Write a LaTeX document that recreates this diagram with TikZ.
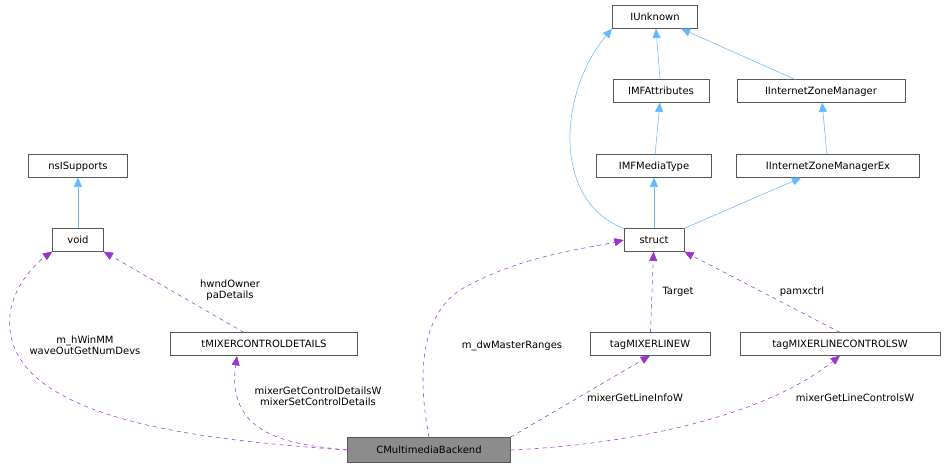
\documentclass[tikz,border=0pt]{standalone}
\usepackage{fontspec}
\setmainfont{DejaVu Sans}
\usetikzlibrary{arrows.meta}
\definecolor{inh}{HTML}{63B8FF}
\definecolor{use}{HTML}{9A32CD}
\tikzset{
  cls/.style = {draw = black!65, fill = white, inner sep = 0pt, minimum height = 17pt, text height = 6pt, text depth = 1.5pt, font = \fontsize{7.5}{8.5}\selectfont},
  inherit/.style = {draw = inh, -{Triangle[length = 7pt, width = 6pt]}},
  member/.style = {draw = use, dashed, -{Triangle[length = 7pt, width = 6pt]}},
  lbl/.style = {font = \fontsize{7.5}{8.5}\selectfont, align = center, inner sep = 1pt}
}
\begin{document}
\begin{tikzpicture}[x = 0.75pt, y = -0.75pt]
\useasboundingbox (0, 0) rectangle (946, 469);
% classes
\node[cls, minimum width = 64pt] (iunk) at (655, 17) {IUnknown};
\node[cls, minimum width = 72pt] (mfattr) at (661, 91) {IMFAttributes};
\node[cls, minimum width = 126pt] (izm) at (821, 91) {IInternetZoneManager};
\node[cls, minimum width = 86pt] (mftype) at (654, 166) {IMFMediaType};
\node[cls, minimum width = 137pt] (izmex) at (828, 166) {IInternetZoneManagerEx};
\node[cls, minimum width = 74pt] (nsis) at (78, 166) {nsISupports};
\node[cls, minimum width = 38pt] (void) at (78, 240) {void};
\node[cls, minimum width = 45pt] (struct) at (654, 240) {struct};
\node[cls, minimum width = 140pt] (mixdet) at (264, 344) {tMIXERCONTROLDETAILS};
\node[cls, minimum width = 90pt] (linew) at (650, 344) {tagMIXERLINEW};
\node[cls, minimum width = 150pt] (ctrlsw) at (840, 344) {tagMIXERLINECONTROLSW};
\node[cls, fill = black!45, minimum width = 122pt, minimum height = 19pt] (backend) at (429, 450) {CMultimediaBackend};
% inheritance
\draw[inherit] (mfattr) -- (iunk);
\draw[inherit] (mftype) -- (mfattr);
\draw[inherit] (struct) -- (mftype);
\draw[inherit] (izm) -- (iunk);
\draw[inherit] (izmex) -- (izm);
\draw[inherit] (struct.north east) -- (izmex);
\draw[inherit] (struct.north west) .. controls (550, 200) and (560, 90) .. (iunk.south west);
\draw[inherit] (void) -- (nsis);
% usage
\draw[member] (backend.west) .. controls (200, 440) and (20, 420) .. (10, 330) .. controls (5, 290) and (40, 260) .. (void.south west);
\node[lbl] (lhwin) at (85, 345) {m\_hWinMM\\waveOutGetNumDevs};
\draw[member] (mixdet) -- (void.south east);
\node[lbl] (lowner) at (230, 290) {hwndOwner\\paDetails};
\draw[member] (backend.west) .. controls (300, 445) and (225, 440) .. (237, 356);
\node[lbl] (lctl) at (318, 396) {mixerGetControlDetailsW\\mixerSetControlDetails};
\draw[member] (backend.north) .. controls (420, 390) and (415, 320) .. (460, 290) .. controls (520, 255) and (590, 248) .. (struct.west);
\node[lbl] (lmaster) at (512, 346) {m\_dwMasterRanges};
\draw[member] (linew) -- (struct);
\node[lbl] (ltarget) at (678, 292) {Target};
\draw[member] (ctrlsw.north) -- (struct.south east);
\node[lbl] (lpam) at (802, 292) {pamxctrl};
\draw[member] (backend.north east) -- (linew.south);
\node[lbl] (linfo) at (635, 398) {mixerGetLineInfoW};
\draw[member] (backend.east) .. controls (620, 445) and (760, 420) .. (ctrlsw.south);
\node[lbl] (lctrls) at (855, 398) {mixerGetLineControlsW};
\end{tikzpicture}
\end{document}
